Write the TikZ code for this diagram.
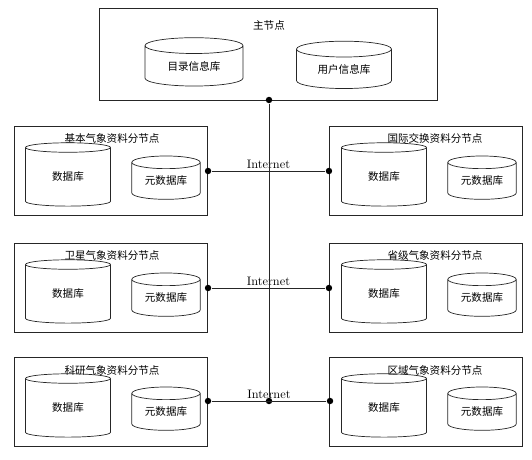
\documentclass[tikz,border=0pt]{standalone}
\usepackage{fontspec}
\newfontfamily\cjk{Noto Sans CJK SC}
\usetikzlibrary{shapes.geometric,positioning}

\begin{document}
\begin{tikzpicture}[x=0.03cm, y=-0.03cm,
    line width=0.6pt, draw=black!85,
    site/.style={draw, minimum width=5.8cm, minimum height=2.66cm},
    ttl/.style={font=\cjk\fontsize{9}{11}\selectfont},
    bigdb/.style={draw, cylinder, shape border rotate=90, aspect=0.3,
                  minimum width=2.55cm, minimum height=1.9cm,
                  inner sep=0pt, font=\cjk\fontsize{9}{11}\selectfont},
    smalldb/.style={bigdb, minimum width=2.05cm, minimum height=1.3cm},
    dot/.style={circle, fill=black, inner sep=0pt, minimum size=5.5pt},
    net/.style={font=\fontsize{10.5}{12}\selectfont, inner sep=1.5pt}
  ]
  \useasboundingbox (0,0) rectangle (532,460);

  % main node
  \node[site, minimum width=10.14cm, minimum height=2.76cm] (main) at (268,54) {};
  \node[ttl] (tmain) at (269,25) {主节点};
  \node[bigdb, minimum width=2.94cm, minimum height=1.45cm] (cat) at (194,66) {目录信息库};
  \node[bigdb, minimum width=2.85cm, minimum height=1.42cm] (usr) at (344,69) {用户信息库};

  % sub nodes, left column
  \node[site] (b1l) at (111,171) {};
  \node[site] (b2l) at (111,288) {};
  \node[site] (b3l) at (111,402) {};
  \node[ttl] (t1l) at (112,138) {基本气象资料分节点};
  \node[ttl] (t2l) at (112,255) {卫星气象资料分节点};
  \node[ttl] (t3l) at (112,370) {科研气象资料分节点};

  % sub nodes, right column
  \node[site] (b1r) at (426,171) {};
  \node[site] (b2r) at (426,288) {};
  \node[site] (b3r) at (426,402) {};
  \node[ttl] (t1r) at (435,138) {国际交换资料分节点};
  \node[ttl] (t2r) at (435,255) {省级气象资料分节点};
  \node[ttl] (t3r) at (435,370) {区域气象资料分节点};

  % databases
  \node[bigdb] (db1l) at (68,177) {数据库};
  \node[smalldb] (md1l) at (166,181) {元数据库};
  \node[bigdb] (db2l) at (68,294) {数据库};
  \node[smalldb] (md2l) at (166,298) {元数据库};
  \node[bigdb] (db3l) at (68,408) {数据库};
  \node[smalldb] (md3l) at (166,412) {元数据库};
  \node[bigdb] (db1r) at (384,177) {数据库};
  \node[smalldb] (md1r) at (482,181) {元数据库};
  \node[bigdb] (db2r) at (384,294) {数据库};
  \node[smalldb] (md2r) at (482,298) {元数据库};
  \node[bigdb] (db3r) at (384,408) {数据库};
  \node[smalldb] (md3r) at (482,412) {元数据库};

  % network
  \node[dot] (dtop) at (269,100) {};
  \node[dot] (d1l) at (b1l.east) {};
  \node[dot] (d1r) at (b1r.west) {};
  \node[dot] (d2l) at (b2l.east) {};
  \node[dot] (d2r) at (b2r.west) {};
  \node[dot] (d3l) at (208,401) {};
  \node[dot] (d3r) at (330,401) {};
  \node[dot] (dbot) at (269,401) {};
  \draw (d1l) -- node[net, above] (inet1) {Internet} (d1r);
  \draw (d2l) -- node[net, above] (inet2) {Internet} (d2r);
  \draw (d3l) -- node[net, above] (inet3) {Internet} (d3r);
  \draw (dtop) -- (dbot);
\end{tikzpicture}
\end{document}
